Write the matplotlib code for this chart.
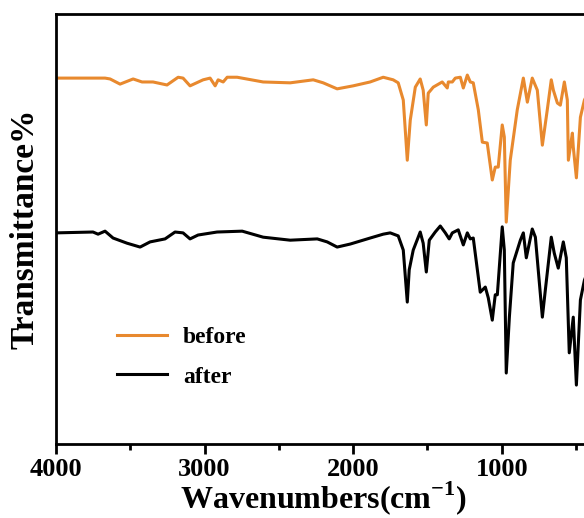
import numpy as np
import matplotlib
matplotlib.use("Agg")
import matplotlib.pyplot as plt
from matplotlib.ticker import MultipleLocator

plt.rcParams["font.family"] = ["Liberation Serif", "DejaVu Serif"]
plt.rcParams["font.weight"] = "bold"
plt.rcParams["mathtext.fontset"] = "custom"
plt.rcParams["mathtext.rm"] = "Liberation Serif:bold"
plt.rcParams["mathtext.bf"] = "Liberation Serif:bold"

# FTIR spectra (wavenumber in cm^-1, transmittance offset)
before_wn = [4000, 3670, 3636, 3569, 3481, 3421, 3347, 3253, 3178, 3145, 3098,
             3010, 2963, 2929, 2909, 2875, 2848, 2781, 2606, 2424, 2269, 2202,
             2108, 2000, 1886, 1798, 1731, 1697, 1663, 1636, 1616, 1582, 1549,
             1529, 1508, 1495, 1461, 1401, 1367, 1360, 1333, 1313, 1279, 1259,
             1232, 1212, 1192, 1158, 1131, 1098, 1064, 1044, 1024, 997, 983,
             970, 943, 896, 855, 828, 795, 761, 727, 694, 667, 653, 626, 606,
             579, 559, 552, 525, 519, 498, 471, 444, 400]
before_t = [85.1, 85.1, 84.9, 83.7, 84.9, 84.2, 84.2, 83.5, 85.3, 85.1, 83.3,
            84.7, 85.1, 83.3, 84.7, 84.2, 85.3, 85.3, 84.2, 84.0, 84.7, 84.0,
            82.6, 83.3, 84.2, 85.3, 84.7, 84.0, 80.0, 66.0, 75.3, 83.0, 84.9,
            82.3, 74.2, 81.6, 83.0, 84.2, 82.8, 84.2, 84.2, 85.1, 85.3, 82.8,
            85.8, 84.2, 84.0, 77.7, 70.2, 70.0, 61.4, 64.4, 64.4, 74.2, 71.4,
            51.6, 66.0, 77.7, 85.1, 79.5, 85.1, 82.3, 69.5, 77.7, 84.7, 82.3,
            79.3, 78.8, 84.2, 80.0, 66.0, 72.3, 69.1, 61.9, 76.0, 80.0, 83.0]

after_wn = [4000, 3751, 3717, 3670, 3616, 3522, 3434, 3367, 3266, 3199, 3145,
            3098, 3044, 2916, 2747, 2606, 2424, 2242, 2175, 2108, 2020, 1886,
            1798, 1751, 1697, 1663, 1636, 1623, 1596, 1549, 1529, 1508, 1488,
            1448, 1414, 1380, 1354, 1333, 1293, 1259, 1232, 1212, 1192, 1145,
            1111, 1091, 1064, 1044, 1030, 997, 983, 970, 949, 923, 875, 855,
            835, 795, 774, 727, 707, 667, 647, 620, 586, 566, 546, 519, 498,
            471, 444, 400]
after_t = [49.1, 49.3, 48.8, 49.5, 47.9, 46.7, 45.8, 47.0, 47.7, 49.3, 49.1,
           47.7, 48.6, 49.3, 49.5, 48.1, 47.4, 47.7, 47.0, 45.8, 46.5, 47.9,
           48.8, 49.1, 48.4, 45.1, 33.0, 40.5, 45.1, 49.3, 46.7, 40.0, 47.4,
           49.3, 50.7, 49.1, 47.7, 49.1, 49.8, 46.3, 49.1, 47.7, 47.9, 35.3,
           36.5, 34.0, 28.8, 34.7, 34.7, 50.5, 45.1, 16.5, 29.5, 42.1, 47.4,
           49.1, 43.3, 50.0, 48.1, 29.5, 35.8, 48.1, 44.4, 40.9, 47.0, 43.3,
           21.2, 29.5, 13.7, 33.5, 38.1, 42.0]

fig = plt.figure(figsize=(5.84, 5.18), dpi=100)
# axes run past the right edge, as in the cropped original
ax = fig.add_axes([0.0959, 0.1429, 0.916, 0.830])

ax.plot(before_wn, before_t, color="#E8892E", lw=2.2, label="before")
ax.plot(after_wn, after_t, color="black", lw=2.2, label="after")

ax.set_xlim(4000, 400)
ax.set_ylim(0, 100)
ax.xaxis.set_major_locator(MultipleLocator(1000))
ax.xaxis.set_minor_locator(MultipleLocator(500))
ax.tick_params(axis="x", which="major", direction="out", length=7, width=2,
               labelsize=19, pad=3)
ax.tick_params(axis="x", which="minor", direction="out", length=4, width=2)
ax.set_yticks([])
for s in ax.spines.values():
    s.set_linewidth(2)

ax.set_xlabel(r"Wavenumbers(cm$^{-1}$)", fontsize=23, fontweight="bold",
              labelpad=-1)
ax.set_ylabel("Transmittance%", fontsize=24, fontweight="bold", labelpad=11)

ax.legend(loc="center left", bbox_to_anchor=(0.114, 0.202), frameon=False,
          fontsize=17, handlelength=2.1, handletextpad=0.7, labelspacing=0.75,
          borderpad=0, borderaxespad=0)

fig.savefig("out.png", dpi=100)
